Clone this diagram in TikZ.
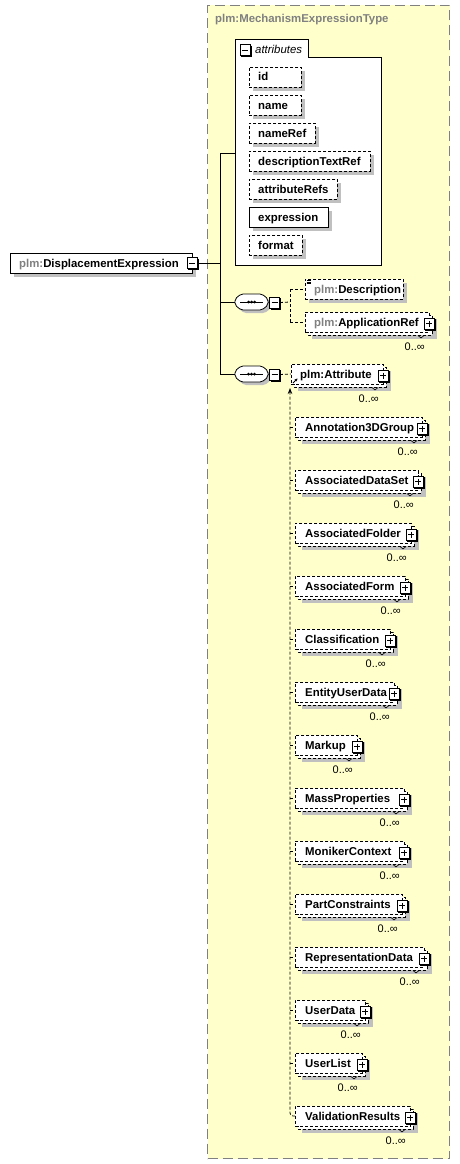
\documentclass[tikz,border=0pt]{standalone}
\usepackage{fontspec}
\setmainfont{Liberation Sans}
\usetikzlibrary{arrows.meta,calc}
\definecolor{typebg}{RGB}{255,255,204}
\definecolor{typeborder}{RGB}{128,128,128}
\definecolor{shadowc}{RGB}{192,192,192}
\definecolor{prefixc}{RGB}{128,128,128}
\newcommand\lblfont{\fontsize{11.4}{13}\selectfont\bfseries}
\newcommand\multfont{\fontsize{11}{13}\selectfont}
\newcommand\pfx{\textcolor{prefixc}{plm:}}
\tikzset{
  elbox/.style={draw, fill=white, dash pattern=on 3pt off 2pt, line width=0.8pt, minimum height=20pt, inner sep=0pt, anchor=west},
  solidbox/.style={draw, fill=white, line width=0.8pt, minimum height=20pt, inner sep=0pt, anchor=west},
  eltext/.style={font=\lblfont, inner sep=0pt, anchor=base west},
  multtext/.style={font=\multfont, inner sep=0pt, anchor=base east},
  dashconn/.style={dash pattern=on 3pt off 2pt, line width=0.8pt},
  conn/.style={line width=0.8pt},
  ctrlbox/.style={draw, fill=white, line width=0.8pt, minimum width=10pt, minimum height=11pt, inner sep=0pt},
}
% control box: name, x, y, 1=plus 0=minus
\newcommand\ctrl[4]{%
  \node[ctrlbox] (#1) at (#2,#3) {};
  \draw[line width=1pt] ($(#1.north east)+(0.9,1.5)$) -- ($(#1.south east)+(0.9,0.9)$) -- ($(#1.south west)+(1.5,0.9)$);
  \draw[line width=0.8pt] ($(#1.center)+(-3,0)$) -- ($(#1.center)+(3,0)$);
  \ifnum#4=1 \draw[line width=0.8pt] ($(#1.center)+(0,-3)$) -- ($(#1.center)+(0,3)$);\fi
}
% repeated element: name, yc, left x, right x, text x, text
\newcommand\melem[6]{%
  \fill[shadowc] (#3+7,#2-3) rectangle (#4+8,#2+17);
  \draw[dashconn, fill=white] (#3+3,#2-7) rectangle (#4+3,#2+13);
  \node[elbox, minimum width={#4-#3}] (#1) at (#3,#2) {};
  \node[eltext] (#1-t) at (#5,#2+4) {#6};
  \ctrl{#1-p}{#4}{#2+1.5}{1}
  \node[multtext] (#1-m) at (#4-4,#2+28) {0..∞};
  \draw[line width=0.6pt] (#4-11,#2+13.5) -- (#4-8,#2+16) -- (#4-5,#2+13.5);
}
% attribute: name, yc, right x, text, style
\newcommand\attrel[5]{%
  \fill[shadowc] (253,#2-6) rectangle (#3+4,#2+14);
  \node[#5, minimum width={#3-249}] (#1) at (249,#2) {};
  \node[eltext] (#1-t) at (258,#2+4) {#4};
}
% sequence compositor: name, left x, yc
\newcommand\seqsym[3]{%
  \fill[shadowc, rounded corners=2pt] (#2+9,#3-5) -- (#2+30,#3-5) -- (#2+36,#3) -- (#2+36,#3+6) -- (#2+30,#3+11) -- (#2+9,#3+11) -- (#2+3,#3+6) -- (#2+3,#3) -- cycle;
  \draw[fill=white, line width=0.8pt, rounded corners=2pt] (#2+6,#3-8) -- (#2+27,#3-8) -- (#2+33,#3-3) -- (#2+33,#3+3) -- (#2+27,#3+8) -- (#2+6,#3+8) -- (#2,#3+3) -- (#2,#3-3) -- cycle;
  \node[inner sep=0pt, minimum width=33pt, minimum height=16pt, anchor=west] (#1) at (#2,#3) {};
  \draw[line width=1pt] (#2+5,#3) -- (#2+28,#3);
  \fill (#2+13.5,#3) circle (1.5pt) (#2+16.5,#3) circle (1.5pt) (#2+19.5,#3) circle (1.5pt);
}
\begin{document}
\begin{tikzpicture}[x=1pt,y=-1pt]
\useasboundingbox (0,0) rectangle (460,1164);
\fill[white] (0,0) rectangle (460,1164);

% type container
\node[draw=typeborder, fill=typebg, dash pattern=on 10pt off 5pt, line width=1pt, minimum width=242pt, minimum height=1153pt, anchor=north west, inner sep=0pt] (type) at (207,5) {};
\node[font=\lblfont, text=prefixc, anchor=base west, inner sep=0pt] (typename) at (215,23) {plm:MechanismExpressionType};

% attributes group
\draw[line width=1pt, fill=white] (235,40) -- (308,40) -- (308,57.5) -- (381,57.5) -- (381,265) -- (235,265) -- cycle;
\node[inner sep=0pt, minimum width=146pt, minimum height=225pt, anchor=north west] (attrs) at (235,40) {};
\ctrl{attrs-m}{245}{50}{0}
\node[font=\fontsize{11.4}{13}\selectfont\itshape, anchor=base west, inner sep=0pt] (attrs-t) at (255,53) {attributes};
\attrel{a-id}{77}{301}{id}{elbox}
\attrel{a-name}{105}{301}{name}{elbox}
\attrel{a-nameref}{133}{315}{nameRef}{elbox}
\attrel{a-desc}{161}{370}{descriptionTextRef}{elbox}
\attrel{a-attrrefs}{189}{337}{attributeRefs}{elbox}
\attrel{a-expr}{217}{328}{expression}{solidbox}
\attrel{a-format}{245}{302}{format}{elbox}

% root element
\fill[shadowc] (14,267) rectangle (196,277);
\fill[shadowc] (192,257) rectangle (196,277);
\node[solidbox, minimum width=182pt] (de) at (10,263) {};
\node[eltext] (de-t) at (19,267) {\pfx DisplacementExpression};
\ctrl{de-m}{192}{263}{0}

% trunk
\coordinate (tk) at (220,263);
\coordinate (tkTop) at (220,153);
\coordinate (tkBot) at (220,374);
\draw[conn] (de-m.east) -- (tk);
\draw[conn] (tkTop) -- (tkBot);
\draw[conn] (tkTop) -- (tkTop -| attrs.west);

% first sequence
\seqsym{seq1}{235}{302}
\ctrl{seq1-m}{274.5}{302.5}{0}
\draw[conn] (tk |- seq1.west) -- (seq1.west);
\draw[conn] (seq1.east) -- (seq1-m.west);

% Description
\fill[shadowc] (309,283) rectangle (407,303);
\node[elbox, minimum width=98pt] (desc) at (305,289) {};
\node[eltext] (desc-t) at (314,293) {\pfx Description};
\draw[line width=0.6pt] (306.5,280.5) -- (311,280.5) (306.5,282) -- (311,282) (306.5,283.5) -- (311,283.5);

% ApplicationRef
\melem{appref}{322}{305}{429}{314}{\pfx ApplicationRef}

\coordinate (c1) at (290,302);
\draw[dashconn] (seq1-m.east) -- (c1);
\draw[dashconn] (c1 |- desc.west) -- (c1 |- appref.west);
\draw[dashconn] (c1 |- desc.west) -- (desc.west);
\draw[dashconn] (c1 |- appref.west) -- (appref.west);

% second sequence
\seqsym{seq2}{235}{374}
\ctrl{seq2-m}{274.5}{374.5}{0}
\draw[conn] (tkBot) -- (seq2.west);
\draw[conn] (seq2.east) -- (seq2-m.west);

% plm:Attribute
\melem{attr}{374}{291}{383}{300}{plm:Attribute}
\draw[line width=0.8pt, -{Stealth[length=2.8pt,width=2.8pt]}] (293,383) -- (297.5,378.5);
\draw[dashconn] (seq2-m.east) -- (attr.west);

% substitution group members
\melem{s1}{427}{295}{422}{305}{Annotation3DGroup}
\melem{s2}{480}{295}{418}{305}{AssociatedDataSet}
\melem{s3}{533}{295}{411}{305}{AssociatedFolder}
\melem{s4}{586}{295}{405}{305}{AssociatedForm}
\melem{s5}{639}{295}{390}{305}{Classification}
\melem{s6}{692}{295}{394}{305}{EntityUserData}
\melem{s7}{745}{295}{357}{305}{Markup}
\melem{s8}{798}{295}{404}{305}{MassProperties}
\melem{s9}{851}{295}{404}{305}{MonikerContext}
\melem{s10}{904}{295}{402}{305}{PartConstraints}
\melem{s11}{957}{295}{424}{305}{RepresentationData}
\melem{s12}{1010}{295}{365}{305}{UserData}
\melem{s13}{1063}{295}{362}{305}{UserList}
\melem{s14}{1116}{295}{410}{305}{ValidationResults}

\coordinate (sgTop) at (290,388);
\draw[dashconn, rounded corners=3pt, {Stealth[length=6pt,width=4.5pt]}-] (sgTop) -- (sgTop |- s14.west) -- (s14.west);
\foreach \s in {s1,s2,s3,s4,s5,s6,s7,s8,s9,s10,s11,s12,s13}{
  \draw[dashconn] (sgTop |- \s.west) -- (\s.west);
}
\end{tikzpicture}
\end{document}
